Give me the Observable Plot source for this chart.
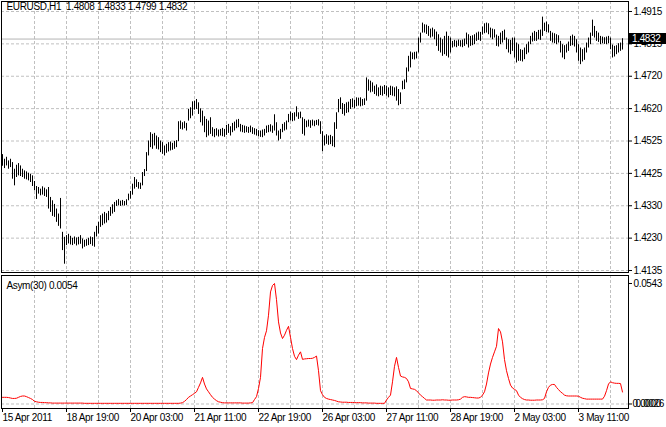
<!DOCTYPE html>
<html><head><meta charset="utf-8">
<script src="https://cdn.jsdelivr.net/npm/d3@7"></script>
<script src="https://cdn.jsdelivr.net/npm/@observablehq/plot@0.6"></script>
<style>
html,body{margin:0;padding:0;background:#fff;}
#wrap{position:relative;width:666px;height:427px;overflow:hidden;background:#fff;font-family:"Liberation Sans",Arial,sans-serif;}
#wrap svg{position:absolute;left:0;}
#wrap text{white-space:pre;}
#bidbox{position:absolute;left:629px;width:37px;height:11px;background:#000;color:#fff;font-size:10px;letter-spacing:-0.35px;line-height:11px;padding-left:3px;box-sizing:border-box;}
</style></head><body><div id="wrap"></div>
<script>
const symbolTitle = "EURUSD,H1  1.4808 1.4833 1.4799 1.4832";
const indicatorTitle = "Asym(30) 0.0054";
const bid = 1.4832;

const highs = [
1.4484,1.4470,1.4476,1.4465,1.4470,1.4460,1.4440,1.4452,1.4457,1.4450,
1.4440,1.4435,1.4432,1.4428,1.4425,1.4420,1.4403,1.4388,1.4385,1.4380,
1.4387,1.4383,1.4378,1.4385,1.4355,1.4345,1.4334,1.4320,1.4305,1.4352,
1.4250,1.4235,1.4240,1.4244,1.4238,1.4232,1.4236,1.4233,1.4235,1.4240,
1.4230,1.4226,1.4228,1.4232,1.4236,1.4234,1.4250,1.4268,1.4280,1.4300,
1.4305,1.4310,1.4306,1.4313,1.4325,1.4333,1.4340,1.4345,1.4349,1.4344,
1.4346,1.4343,1.4348,1.4365,1.4373,1.4395,1.4415,1.4408,1.4400,1.4398,
1.4430,1.4439,1.4490,1.4525,1.4550,1.4545,1.4548,1.4540,1.4535,1.4525,
1.4520,1.4510,1.4515,1.4520,1.4522,1.4518,1.4524,1.4526,1.4583,1.4585,
1.4580,1.4583,1.4578,1.4620,1.4625,1.4643,1.4645,1.4650,1.4640,1.4622,
1.4615,1.4598,1.4590,1.4585,1.4595,1.4565,1.4560,1.4562,1.4558,1.4560,
1.4563,1.4560,1.4572,1.4575,1.4568,1.4578,1.4582,1.4588,1.4590,1.4575,
1.4572,1.4570,1.4568,1.4566,1.4570,1.4565,1.4562,1.4560,1.4556,1.4555,
1.4558,1.4560,1.4570,1.4572,1.4574,1.4570,1.4604,1.4580,1.4555,1.4560,
1.4575,1.4580,1.4585,1.4605,1.4612,1.4608,1.4610,1.4628,1.4610,1.4612,
1.4595,1.4590,1.4585,1.4588,1.4586,1.4588,1.4585,1.4587,1.4589,1.4583,
1.4553,1.4540,1.4544,1.4540,1.4542,1.4538,1.4580,1.4610,1.4650,1.4655,
1.4638,1.4635,1.4640,1.4642,1.4650,1.4652,1.4648,1.4655,1.4654,1.4655,
1.4650,1.4652,1.4715,1.4709,1.4705,1.4700,1.4690,1.4694,1.4685,1.4690,
1.4688,1.4692,1.4690,1.4685,1.4690,1.4688,1.4685,1.4688,1.4680,1.4670,
1.4705,1.4709,1.4745,1.4780,1.4793,1.4790,1.4792,1.4793,1.4835,1.4850,
1.4880,1.4875,1.4874,1.4870,1.4862,1.4865,1.4860,1.4853,1.4845,1.4835,
1.4830,1.4840,1.4853,1.4840,1.4835,1.4825,1.4828,1.4826,1.4829,1.4827,
1.4829,1.4832,1.4850,1.4845,1.4840,1.4842,1.4845,1.4850,1.4853,1.4852,
1.4868,1.4878,1.4880,1.4878,1.4865,1.4862,1.4860,1.4844,1.4840,1.4850,
1.4855,1.4859,1.4835,1.4830,1.4828,1.4835,1.4835,1.4820,1.4815,1.4800,
1.4798,1.4805,1.4815,1.4823,1.4840,1.4850,1.4855,1.4852,1.4858,1.4859,
1.4898,1.4880,1.4883,1.4875,1.4855,1.4850,1.4848,1.4845,1.4842,1.4825,
1.4815,1.4812,1.4815,1.4823,1.4840,1.4844,1.4840,1.4830,1.4815,1.4805,
1.4800,1.4805,1.4820,1.4835,1.4850,1.4889,1.4870,1.4855,1.4850,1.4840,
1.4838,1.4836,1.4838,1.4840,1.4835,1.4814,1.4810,1.4812,1.4818,1.4820,
1.4833];

const lows = [
1.4449,1.4442,1.4450,1.4440,1.4445,1.4410,1.4390,1.4415,1.4420,1.4418,
1.4415,1.4410,1.4408,1.4405,1.4400,1.4388,1.4375,1.4349,1.4365,1.4360,
1.4362,1.4358,1.4355,1.4320,1.4310,1.4298,1.4295,1.4280,1.4268,1.4260,
1.4195,1.4154,1.4210,1.4215,1.4212,1.4210,1.4214,1.4209,1.4212,1.4214,
1.4200,1.4205,1.4208,1.4210,1.4213,1.4208,1.4205,1.4236,1.4245,1.4265,
1.4270,1.4275,1.4278,1.4285,1.4298,1.4305,1.4310,1.4328,1.4330,1.4328,
1.4330,1.4329,1.4331,1.4345,1.4350,1.4362,1.4380,1.4385,1.4380,1.4379,
1.4390,1.4418,1.4433,1.4480,1.4505,1.4500,1.4510,1.4500,1.4498,1.4490,
1.4485,1.4480,1.4488,1.4492,1.4495,1.4497,1.4500,1.4505,1.4523,1.4560,
1.4558,1.4562,1.4555,1.4585,1.4592,1.4600,1.4618,1.4620,1.4605,1.4580,
1.4570,1.4550,1.4535,1.4540,1.4545,1.4538,1.4535,1.4540,1.4537,1.4540,
1.4538,1.4536,1.4542,1.4548,1.4540,1.4550,1.4555,1.4562,1.4565,1.4552,
1.4550,1.4548,1.4550,1.4548,1.4550,1.4545,1.4543,1.4540,1.4538,1.4536,
1.4535,1.4540,1.4548,1.4550,1.4552,1.4548,1.4555,1.4540,1.4525,1.4530,
1.4550,1.4555,1.4558,1.4580,1.4585,1.4583,1.4585,1.4597,1.4590,1.4592,
1.4545,1.4540,1.4565,1.4567,1.4563,1.4570,1.4568,1.4572,1.4570,1.4545,
1.4493,1.4510,1.4515,1.4512,1.4514,1.4508,1.4505,1.4560,1.4610,1.4620,
1.4605,1.4600,1.4608,1.4610,1.4620,1.4625,1.4622,1.4628,1.4630,1.4628,
1.4630,1.4632,1.4645,1.4675,1.4670,1.4672,1.4665,1.4660,1.4658,1.4662,
1.4660,1.4665,1.4660,1.4655,1.4662,1.4660,1.4658,1.4645,1.4631,1.4635,
1.4679,1.4680,1.4700,1.4733,1.4745,1.4770,1.4769,1.4772,1.4790,1.4820,
1.4850,1.4850,1.4846,1.4840,1.4835,1.4838,1.4830,1.4810,1.4795,1.4790,
1.4780,1.4785,1.4780,1.4775,1.4790,1.4805,1.4808,1.4806,1.4810,1.4808,
1.4806,1.4810,1.4815,1.4805,1.4810,1.4812,1.4815,1.4825,1.4828,1.4825,
1.4844,1.4848,1.4850,1.4845,1.4835,1.4830,1.4835,1.4810,1.4808,1.4815,
1.4820,1.4828,1.4800,1.4790,1.4785,1.4795,1.4775,1.4760,1.4765,1.4765,
1.4763,1.4770,1.4785,1.4790,1.4815,1.4823,1.4825,1.4825,1.4830,1.4828,
1.4840,1.4855,1.4852,1.4850,1.4825,1.4820,1.4818,1.4815,1.4820,1.4790,
1.4775,1.4770,1.4790,1.4795,1.4810,1.4812,1.4808,1.4790,1.4765,1.4755,
1.4763,1.4768,1.4790,1.4805,1.4815,1.4840,1.4835,1.4825,1.4822,1.4815,
1.4818,1.4816,1.4815,1.4818,1.4800,1.4775,1.4778,1.4785,1.4790,1.4795,
1.4799];

const asym = [
0.0030,0.0030,0.0030,0.0029,0.0027,0.0025,0.0025,0.0026,0.0030,0.0034,
0.0036,0.0036,0.0033,0.0029,0.0025,0.0020,0.0012,0.0010,0.0008,0.0007,
0.0007,0.0006,0.0006,0.0005,0.0005,0.0004,0.0004,0.0004,0.0004,0.0004,
0.0004,0.0004,0.0004,0.0004,0.0004,0.0004,0.0004,0.0004,0.0004,0.0004,
0.0004,0.0003,0.0003,0.0003,0.0003,0.0003,0.0003,0.0003,0.0003,0.0003,
0.0003,0.0003,0.0003,0.0003,0.0003,0.0003,0.0003,0.0003,0.0003,0.0003,
0.0003,0.0003,0.0003,0.0003,0.0003,0.0003,0.0003,0.0003,0.0003,0.0003,
0.0003,0.0003,0.0003,0.0003,0.0003,0.0003,0.0003,0.0003,0.0003,0.0003,
0.0003,0.0003,0.0003,0.0003,0.0003,0.0003,0.0003,0.0003,0.0003,0.0004,
0.0006,0.0012,0.0020,0.0030,0.0036,0.0042,0.0048,0.0055,0.0075,0.0095,
0.0120,0.0090,0.0068,0.0055,0.0042,0.0030,0.0022,0.0015,0.0010,0.0008,
0.0006,0.0005,0.0005,0.0005,0.0005,0.0005,0.0005,0.0005,0.0005,0.0005,
0.0004,0.0004,0.0004,0.0004,0.0005,0.0006,0.0020,0.0033,0.0070,0.0120,
0.0250,0.0300,0.0330,0.0400,0.0505,0.0534,0.0543,0.0470,0.0370,0.0320,
0.0295,0.0310,0.0332,0.0350,0.0300,0.0250,0.0215,0.0200,0.0220,0.0235,
0.0201,0.0203,0.0204,0.0205,0.0205,0.0206,0.0210,0.0216,0.0150,0.0060,
0.0042,0.0030,0.0025,0.0022,0.0020,0.0018,0.0016,0.0013,0.0010,0.0009,
0.0008,0.0008,0.0008,0.0007,0.0007,0.0007,0.0006,0.0006,0.0006,0.0006,
0.0005,0.0005,0.0005,0.0004,0.0004,0.0004,0.0004,0.0003,0.0003,0.0003,
0.0003,0.0003,0.0018,0.0030,0.0040,0.0100,0.0170,0.0210,0.0165,0.0126,
0.0122,0.0120,0.0115,0.0100,0.0070,0.0068,0.0066,0.0060,0.0050,0.0040,
0.0033,0.0025,0.0018,0.0018,0.0018,0.0017,0.0017,0.0018,0.0018,0.0018,
0.0019,0.0018,0.0018,0.0017,0.0017,0.0018,0.0018,0.0018,0.0019,0.0022,
0.0030,0.0033,0.0032,0.0030,0.0030,0.0029,0.0028,0.0027,0.0027,0.0030,
0.0040,0.0055,0.0090,0.0140,0.0180,0.0210,0.0235,0.0260,0.0340,0.0325,
0.0280,0.0200,0.0150,0.0115,0.0085,0.0072,0.0066,0.0060,0.0040,0.0030,
0.0024,0.0020,0.0018,0.0018,0.0017,0.0017,0.0017,0.0018,0.0018,0.0018,
0.0019,0.0025,0.0055,0.0075,0.0085,0.0088,0.0088,0.0075,0.0065,0.0055,
0.0048,0.0040,0.0037,0.0036,0.0036,0.0036,0.0036,0.0036,0.0035,0.0030,
0.0026,0.0024,0.0022,0.0022,0.0022,0.0022,0.0022,0.0022,0.0022,0.0022,
0.0022,0.0035,0.0060,0.0090,0.0100,0.0096,0.0094,0.0093,0.0093,0.0092,
0.0054];

const priceTicks = [1.4915, 1.48175, 1.4720, 1.46225, 1.4525, 1.44275, 1.4330, 1.42325, 1.4135];
const priceTickLabels = ["1.4915","1.4815","1.4720","1.4620","1.4525","1.4425","1.4330","1.4230","1.4135"];
const gridBars = [16,32,48,64,80,96,112,128,144,160,176,192,208,224,240,256,272,288,304];
const timeTickBars = [0,32,64,96,128,160,192,224,256,288];
const timeTickLabels = ["15 Apr 2011","18 Apr 19:00","20 Apr 03:00","21 Apr 11:00","22 Apr 19:00","26 Apr 03:00","27 Apr 11:00","28 Apr 19:00","2 May 03:00","3 May 11:00"];
const asymTopTick = [0.0543];
const asymTopLabel = ["0.0543"];
const asymBottomLabels = ["0.0000","0.0026"];

const FONT = '"Liberation Sans", Arial, sans-serif';
const GRID = "#c0c0c0";
const baseStyle = {fontFamily: FONT, fontSize: "10px", letterSpacing: "-0.35px", background: "transparent", color: "black", overflow: "visible"};

const bars = highs.map((h, i) => ({i, high: h, low: lows[i]}));
const asymData = asym.map((v, i) => ({i, v}));
const priceLabelMap = new Map(priceTicks.map((t, k) => [t, priceTickLabels[k]]));
const timeLabelMap = new Map(timeTickBars.map((t, k) => [t, timeTickLabels[k]]));

const wrap = document.getElementById("wrap");

const main = Plot.plot({
  width: 666, height: 274,
  marginLeft: 1, marginRight: 38, marginTop: 1, marginBottom: 2,
  style: baseStyle,
  x: {domain: [-0.5, 313], axis: null, label: null},
  y: {domain: [1.41290, 1.49451], axis: null, label: null},
  marks: [
    Plot.ruleX(gridBars, {stroke: GRID, strokeDasharray: "3,2"}),
    Plot.ruleY(priceTicks, {stroke: GRID, strokeDasharray: "3,2"}),
    Plot.ruleY([bid], {stroke: "#b4b4b4"}),
    Plot.ruleX(bars, {x: "i", y1: "low", y2: "high", stroke: "black", strokeWidth: 1}),
    Plot.frame({stroke: "black"}),
    Plot.axisY(priceTicks, {anchor: "right", label: null, tickSize: 3, tickPadding: 2, stroke: "black", fill: "black", tickFormat: d => priceLabelMap.get(d)}),
    Plot.text([symbolTitle], {frameAnchor: "top-left", dx: 5, dy: 1, lineAnchor: "top", textAnchor: "start", fill: "black"})
  ]
});
main.style.top = "0px";
wrap.appendChild(main);

const sub = Plot.plot({
  width: 666, height: 153,
  marginLeft: 1, marginRight: 38, marginTop: 1, marginBottom: 19,
  style: baseStyle,
  x: {domain: [-0.5, 313], axis: null, label: null},
  y: {domain: [-0.00203, 0.0579], axis: null, label: null},
  marks: [
    Plot.ruleX(gridBars, {stroke: GRID, strokeDasharray: "3,2"}),
    Plot.ruleY([0], {stroke: GRID, strokeDasharray: "3,2"}),
    Plot.line(asymData, {x: "i", y: "v", stroke: "#ff0000", strokeWidth: 1}),
    Plot.frame({stroke: "black"}),
    Plot.axisY(asymTopTick, {anchor: "right", label: null, tickSize: 3, tickPadding: 2, stroke: "black", fill: "black", tickFormat: (d) => asymTopLabel[asymTopTick.indexOf(d)]}),
    Plot.axisY([0], {anchor: "right", label: null, tickSize: 3, tickPadding: 2, stroke: "black", fill: "black", tickFormat: () => ""}),
    Plot.text(asymBottomLabels, {frameAnchor: "right", y: () => 0, text: d => d, textAnchor: "start", fill: "black"}),
    Plot.axisX(timeTickBars, {anchor: "bottom", label: null, tickSize: 4, tickPadding: 1, stroke: "black", fill: "black", textAnchor: "start", tickFormat: d => timeLabelMap.get(d)}),
    Plot.text([indicatorTitle], {frameAnchor: "top-left", dx: 5, dy: 6, lineAnchor: "top", textAnchor: "start", fill: "black"})
  ]
});
sub.style.top = "274px";
wrap.appendChild(sub);

// the two overlapping bottom labels of the indicator window, as in the terminal
sub.querySelectorAll("text").forEach(t => {
  if (t.textContent === "0.0000") t.setAttribute("transform", (t.getAttribute("transform") || "") + " translate(4,0)");
  if (t.textContent === "0.0026") t.setAttribute("transform", (t.getAttribute("transform") || "") + " translate(7,0)");
});

// current bid box on the price axis
const by = main.scale("y").apply(bid);
const box = document.createElement("div");
box.id = "bidbox";
box.textContent = "1.4832";
box.style.top = (by - 6) + "px";
wrap.appendChild(box);
</script>
</body></html>
